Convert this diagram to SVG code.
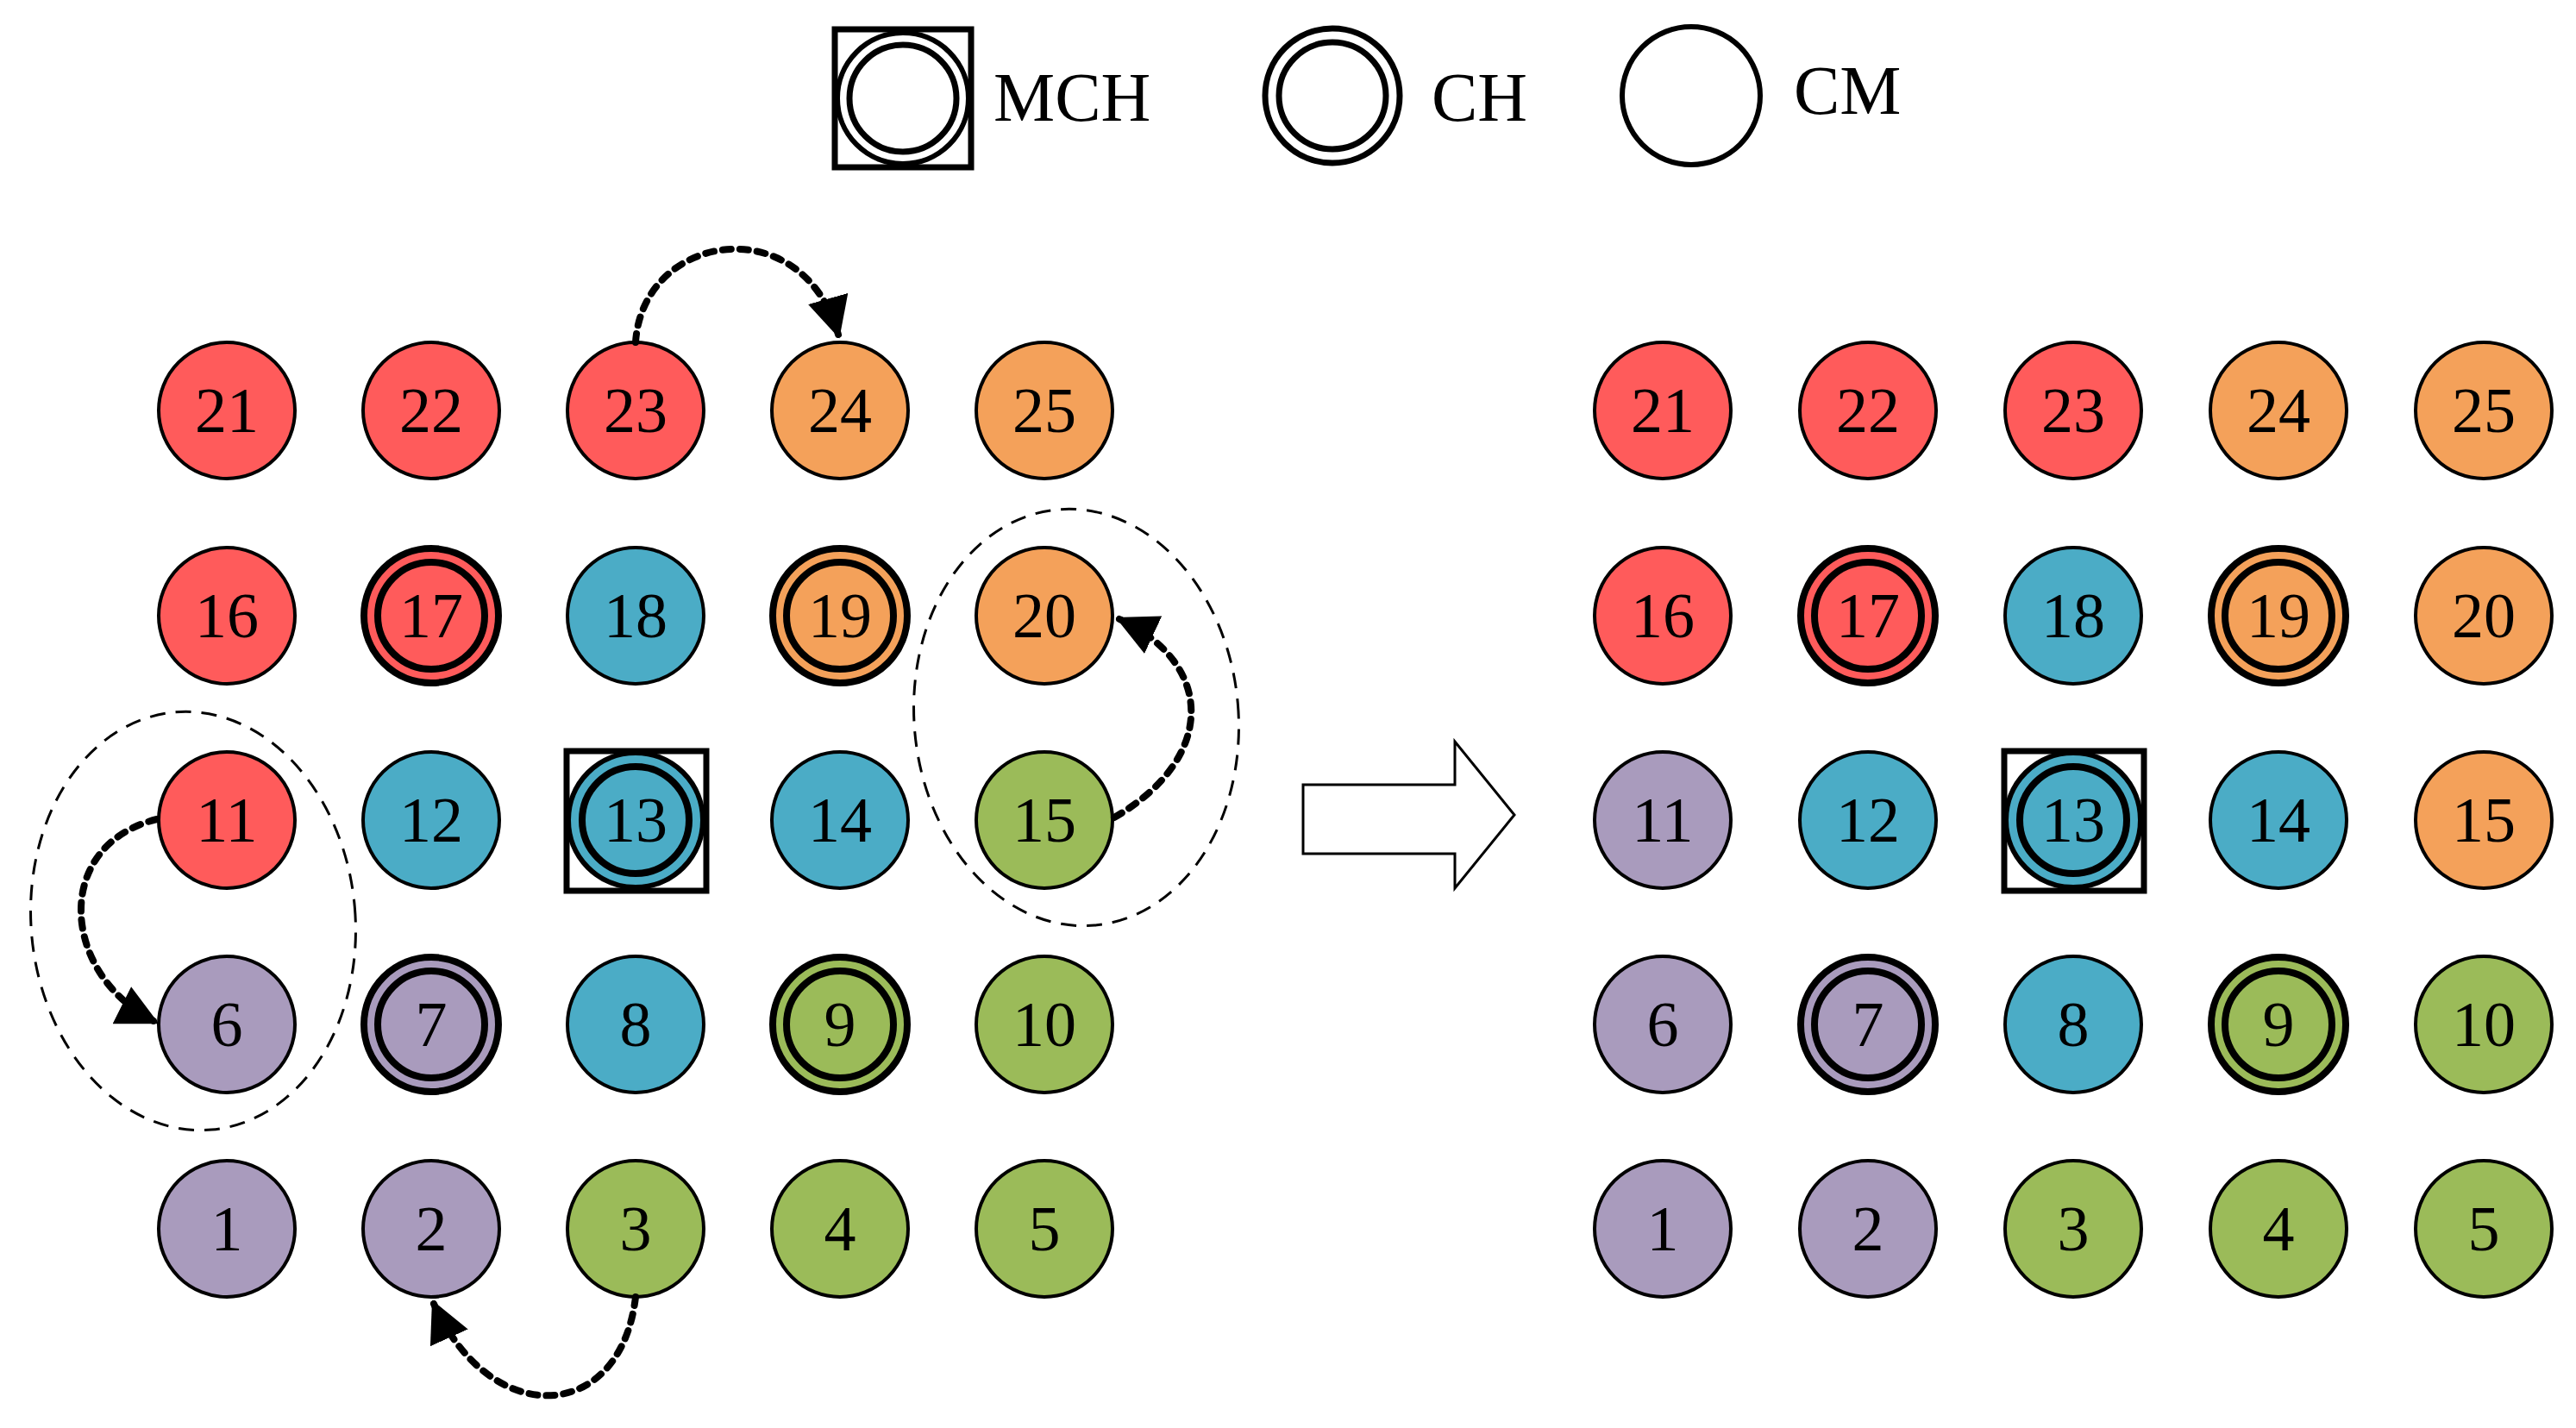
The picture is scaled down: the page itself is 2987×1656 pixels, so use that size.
<svg xmlns="http://www.w3.org/2000/svg" width="2987" height="1656" viewBox="0 0 2987 1656">
<style>
.n{stroke:#000;stroke-width:4}
.r{fill:#FF5B5B}.o{fill:#F4A15A}.b{fill:#4BACC6}.g{fill:#9BBB59}.p{fill:#A99BBD}
.ch{fill:none;stroke:#000;stroke-width:8}
.t{font-family:"Liberation Serif",serif;font-size:74px;text-anchor:middle;fill:#000}
.lt{font-family:"Liberation Serif",serif;font-size:80px;fill:#000}
.el{fill:none;stroke:#000;stroke-width:3;stroke-dasharray:18 12}
.da{fill:none;stroke:#000;stroke-width:8;stroke-dasharray:10 10;stroke-linecap:round}
</style>
<defs>
<marker id="ah" viewBox="0 0 10 10" refX="9" refY="5" markerWidth="6" markerHeight="6" markerUnits="strokeWidth" orient="auto"><path d="M0,0 L10,5 L0,10 z" fill="#000"/></marker>
</defs>
<g id="legend">
<rect x="968" y="34" width="158" height="160" fill="#fff" stroke="#000" stroke-width="7"/>
<circle cx="1047" cy="114" r="76" fill="#fff" stroke="#000" stroke-width="6"/>
<circle cx="1047" cy="114" r="62" fill="#fff" stroke="#000" stroke-width="7"/>
<text class="lt" x="1152" y="140">MCH</text>
<circle cx="1545" cy="111" r="78" fill="#fff" stroke="#000" stroke-width="7"/>
<circle cx="1545" cy="111" r="62" fill="#fff" stroke="#000" stroke-width="7"/>
<text class="lt" x="1660" y="140">CH</text>
<circle cx="1961" cy="111" r="80" fill="#fff" stroke="#000" stroke-width="6"/>
<text class="lt" x="2080" y="132">CM</text>
</g>
<g id="left">
<g id="L21"><circle class="n r" cx="263" cy="476" r="79"/><text class="t" x="263" y="501">21</text></g>
<g id="L22"><circle class="n r" cx="500" cy="476" r="79"/><text class="t" x="500" y="501">22</text></g>
<g id="L23"><circle class="n r" cx="737" cy="476" r="79"/><text class="t" x="737" y="501">23</text></g>
<g id="L24"><circle class="n o" cx="974" cy="476" r="79"/><text class="t" x="974" y="501">24</text></g>
<g id="L25"><circle class="n o" cx="1211" cy="476" r="79"/><text class="t" x="1211" y="501">25</text></g>
<g id="L16"><circle class="n r" cx="263" cy="714" r="79"/><text class="t" x="263" y="739">16</text></g>
<g id="L17"><circle class="n r" cx="500" cy="714" r="79"/><circle class="ch" cx="500" cy="714" r="78"/><circle class="ch" cx="500" cy="714" r="62"/><text class="t" x="500" y="739">17</text></g>
<g id="L18"><circle class="n b" cx="737" cy="714" r="79"/><text class="t" x="737" y="739">18</text></g>
<g id="L19"><circle class="n o" cx="974" cy="714" r="79"/><circle class="ch" cx="974" cy="714" r="78"/><circle class="ch" cx="974" cy="714" r="62"/><text class="t" x="974" y="739">19</text></g>
<g id="L20"><circle class="n o" cx="1211" cy="714" r="79"/><text class="t" x="1211" y="739">20</text></g>
<g id="L11"><circle class="n r" cx="263" cy="951" r="79"/><text class="t" x="263" y="976">11</text></g>
<g id="L12"><circle class="n b" cx="500" cy="951" r="79"/><text class="t" x="500" y="976">12</text></g>
<g id="L13"><rect x="657" y="871" width="162" height="162" fill="#fff" stroke="#000" stroke-width="7"/><circle class="b" cx="737" cy="951" r="78" stroke="#000" stroke-width="6"/><circle class="ch" cx="737" cy="951" r="62"/><text class="t" x="737" y="976">13</text></g>
<g id="L14"><circle class="n b" cx="974" cy="951" r="79"/><text class="t" x="974" y="976">14</text></g>
<g id="L15"><circle class="n g" cx="1211" cy="951" r="79"/><text class="t" x="1211" y="976">15</text></g>
<g id="L6"><circle class="n p" cx="263" cy="1188" r="79"/><text class="t" x="263" y="1213">6</text></g>
<g id="L7"><circle class="n p" cx="500" cy="1188" r="79"/><circle class="ch" cx="500" cy="1188" r="78"/><circle class="ch" cx="500" cy="1188" r="62"/><text class="t" x="500" y="1213">7</text></g>
<g id="L8"><circle class="n b" cx="737" cy="1188" r="79"/><text class="t" x="737" y="1213">8</text></g>
<g id="L9"><circle class="n g" cx="974" cy="1188" r="79"/><circle class="ch" cx="974" cy="1188" r="78"/><circle class="ch" cx="974" cy="1188" r="62"/><text class="t" x="974" y="1213">9</text></g>
<g id="L10"><circle class="n g" cx="1211" cy="1188" r="79"/><text class="t" x="1211" y="1213">10</text></g>
<g id="L1"><circle class="n p" cx="263" cy="1425" r="79"/><text class="t" x="263" y="1450">1</text></g>
<g id="L2"><circle class="n p" cx="500" cy="1425" r="79"/><text class="t" x="500" y="1450">2</text></g>
<g id="L3"><circle class="n g" cx="737" cy="1425" r="79"/><text class="t" x="737" y="1450">3</text></g>
<g id="L4"><circle class="n g" cx="974" cy="1425" r="79"/><text class="t" x="974" y="1450">4</text></g>
<g id="L5"><circle class="n g" cx="1211" cy="1425" r="79"/><text class="t" x="1211" y="1450">5</text></g>
</g>
<g id="right">
<g id="R21"><circle class="n r" cx="1928" cy="476" r="79"/><text class="t" x="1928" y="501">21</text></g>
<g id="R22"><circle class="n r" cx="2166" cy="476" r="79"/><text class="t" x="2166" y="501">22</text></g>
<g id="R23"><circle class="n r" cx="2404" cy="476" r="79"/><text class="t" x="2404" y="501">23</text></g>
<g id="R24"><circle class="n o" cx="2642" cy="476" r="79"/><text class="t" x="2642" y="501">24</text></g>
<g id="R25"><circle class="n o" cx="2880" cy="476" r="79"/><text class="t" x="2880" y="501">25</text></g>
<g id="R16"><circle class="n r" cx="1928" cy="714" r="79"/><text class="t" x="1928" y="739">16</text></g>
<g id="R17"><circle class="n r" cx="2166" cy="714" r="79"/><circle class="ch" cx="2166" cy="714" r="78"/><circle class="ch" cx="2166" cy="714" r="62"/><text class="t" x="2166" y="739">17</text></g>
<g id="R18"><circle class="n b" cx="2404" cy="714" r="79"/><text class="t" x="2404" y="739">18</text></g>
<g id="R19"><circle class="n o" cx="2642" cy="714" r="79"/><circle class="ch" cx="2642" cy="714" r="78"/><circle class="ch" cx="2642" cy="714" r="62"/><text class="t" x="2642" y="739">19</text></g>
<g id="R20"><circle class="n o" cx="2880" cy="714" r="79"/><text class="t" x="2880" y="739">20</text></g>
<g id="R11"><circle class="n p" cx="1928" cy="951" r="79"/><text class="t" x="1928" y="976">11</text></g>
<g id="R12"><circle class="n b" cx="2166" cy="951" r="79"/><text class="t" x="2166" y="976">12</text></g>
<g id="R13"><rect x="2324" y="871" width="162" height="162" fill="#fff" stroke="#000" stroke-width="7"/><circle class="b" cx="2404" cy="951" r="78" stroke="#000" stroke-width="6"/><circle class="ch" cx="2404" cy="951" r="62"/><text class="t" x="2404" y="976">13</text></g>
<g id="R14"><circle class="n b" cx="2642" cy="951" r="79"/><text class="t" x="2642" y="976">14</text></g>
<g id="R15"><circle class="n o" cx="2880" cy="951" r="79"/><text class="t" x="2880" y="976">15</text></g>
<g id="R6"><circle class="n p" cx="1928" cy="1188" r="79"/><text class="t" x="1928" y="1213">6</text></g>
<g id="R7"><circle class="n p" cx="2166" cy="1188" r="79"/><circle class="ch" cx="2166" cy="1188" r="78"/><circle class="ch" cx="2166" cy="1188" r="62"/><text class="t" x="2166" y="1213">7</text></g>
<g id="R8"><circle class="n b" cx="2404" cy="1188" r="79"/><text class="t" x="2404" y="1213">8</text></g>
<g id="R9"><circle class="n g" cx="2642" cy="1188" r="79"/><circle class="ch" cx="2642" cy="1188" r="78"/><circle class="ch" cx="2642" cy="1188" r="62"/><text class="t" x="2642" y="1213">9</text></g>
<g id="R10"><circle class="n g" cx="2880" cy="1188" r="79"/><text class="t" x="2880" y="1213">10</text></g>
<g id="R1"><circle class="n p" cx="1928" cy="1425" r="79"/><text class="t" x="1928" y="1450">1</text></g>
<g id="R2"><circle class="n p" cx="2166" cy="1425" r="79"/><text class="t" x="2166" y="1450">2</text></g>
<g id="R3"><circle class="n g" cx="2404" cy="1425" r="79"/><text class="t" x="2404" y="1450">3</text></g>
<g id="R4"><circle class="n g" cx="2642" cy="1425" r="79"/><text class="t" x="2642" y="1450">4</text></g>
<g id="R5"><circle class="n g" cx="2880" cy="1425" r="79"/><text class="t" x="2880" y="1450">5</text></g>
</g>
<g id="connectors">
<ellipse class="el" cx="224" cy="1068" rx="188" ry="243" transform="rotate(-5 224 1068)"/>
<ellipse class="el" cx="1248" cy="832" rx="188" ry="242" transform="rotate(-5 1248 832)"/>
<path class="da" d="M737,397 C745,270 930,240 972,388" marker-end="url(#ah)"/>
<path class="da" d="M1292,948 C1410,880 1410,770 1298,718" marker-end="url(#ah)"/>
<path class="da" d="M182,950 C60,980 70,1130 180,1185" marker-end="url(#ah)"/>
<path class="da" d="M737,1504 C720,1650 570,1660 503,1512" marker-end="url(#ah)"/>
<path d="M1511,910 L1687,910 L1687,860 L1756,945 L1687,1030 L1687,990 L1511,990 Z" fill="#fff" stroke="#000" stroke-width="3"/>
</g>
</svg>
